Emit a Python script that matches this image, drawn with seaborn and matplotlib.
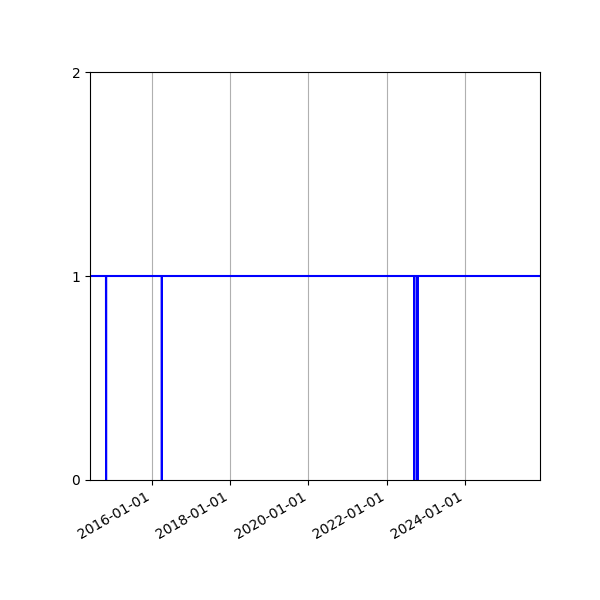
import matplotlib
matplotlib.use("Agg")
import matplotlib.pyplot as plt
import matplotlib.dates as mdates
import pandas as pd
import seaborn as sns

dates = ["2014-06-05", "2014-11-01", "2014-11-02", "2014-11-03",
         "2016-04-04", "2016-04-05", "2016-04-06",
         "2022-09-14", "2022-09-15", "2022-09-16",
         "2022-10-14", "2022-10-15", "2022-10-16",
         "2025-12-01"]
values = [1, 1, 0, 1, 1, 0, 1, 1, 0, 1, 1, 0, 1, 1]
y_ticks = [0, 1, 2]

df = pd.DataFrame({"date": pd.to_datetime(dates), "value": values})

fig, ax = plt.subplots(figsize=(6, 6), dpi=100)
sns.lineplot(data=df, x="date", y="value", ax=ax, color="b", linewidth=1.5,
             estimator=None, sort=False)
ax.set_xlim(df["date"].min(), df["date"].max())
ax.set_ylim(0, 2)
ax.set_yticks(y_ticks)
ax.xaxis.set_major_locator(mdates.YearLocator(2))
ax.xaxis.set_major_formatter(mdates.DateFormatter("%Y-%m-%d"))
ax.grid(True, axis="x")
ax.set_xlabel("")
ax.set_ylabel("")
fig.autofmt_xdate()
fig.subplots_adjust(left=0.15, right=0.9, top=0.88, bottom=0.2)
fig.savefig("out.png", dpi=100)
